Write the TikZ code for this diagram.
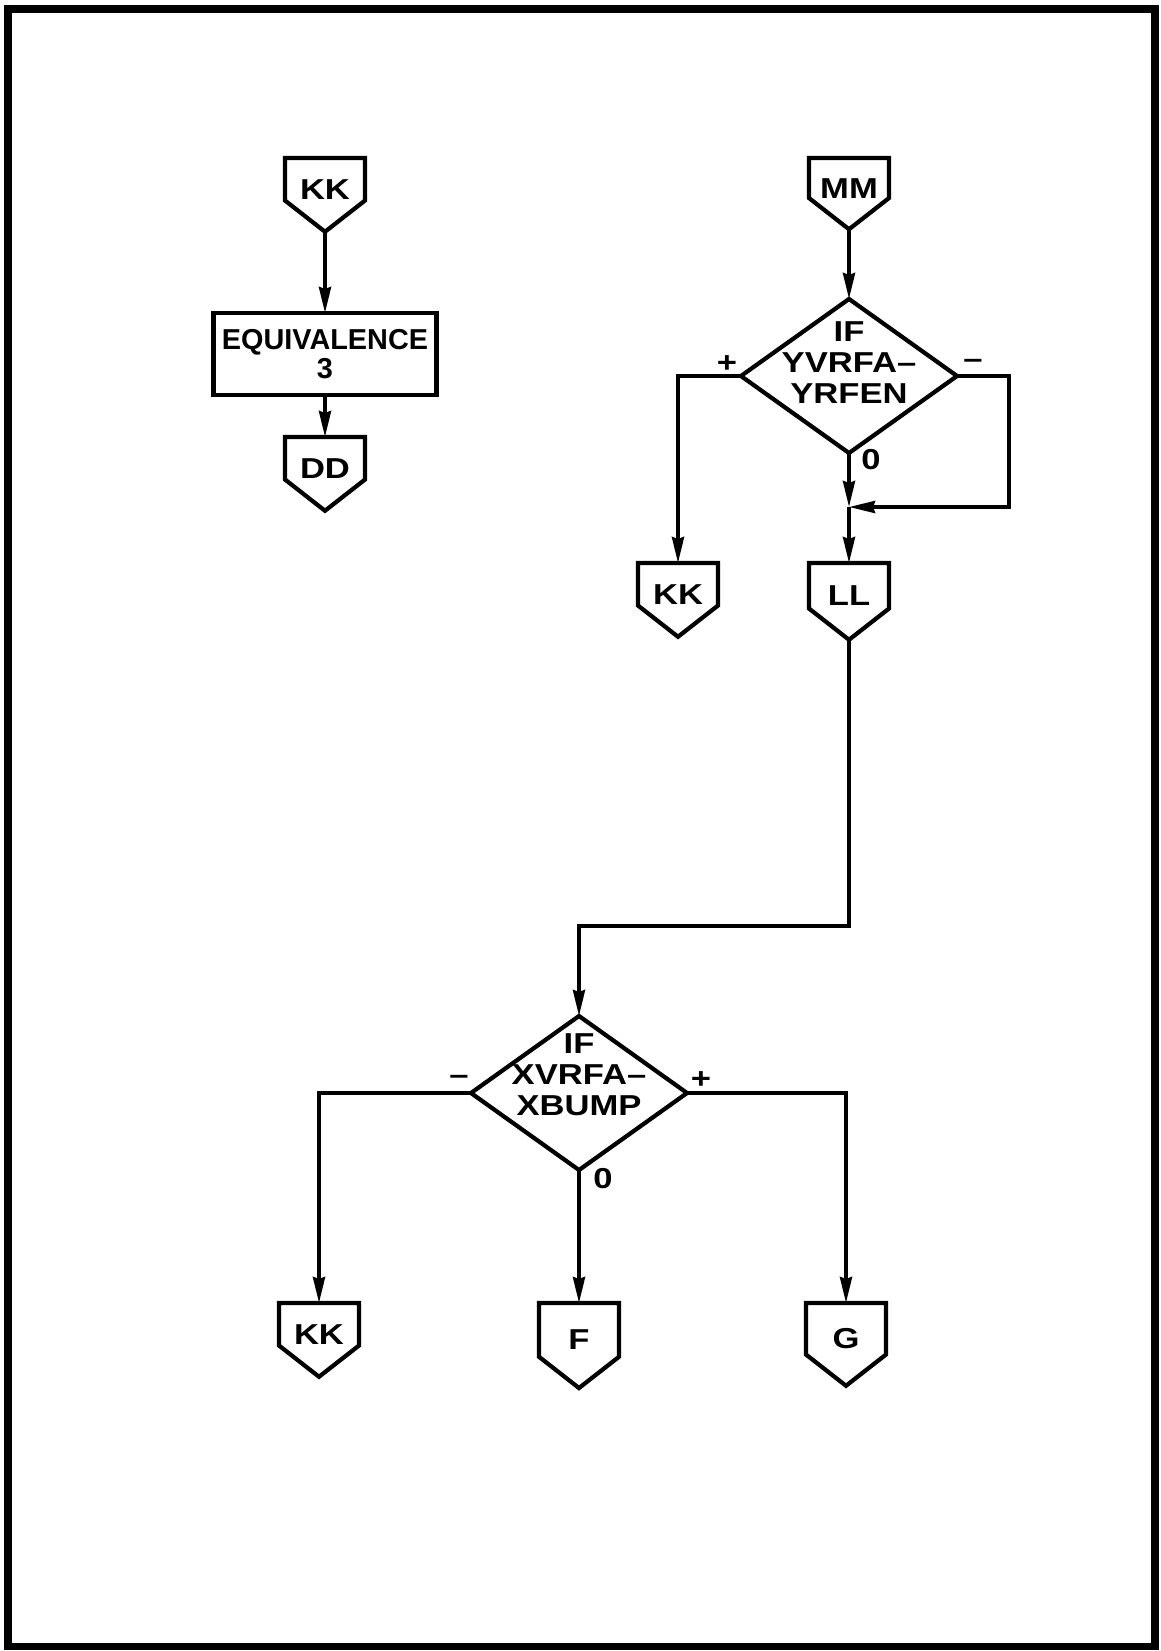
\documentclass[tikz,border=0pt]{standalone}
\usepackage{fontspec}
\setmainfont{Liberation Sans}
\newfontfamily\widesans[FakeStretch=1.2]{Liberation Sans}
\usetikzlibrary{shapes.geometric,shapes.symbols,arrows.meta}
\tikzset{
  conn/.style={shape=signal,signal to=south,signal from=nowhere,signal pointer angle=104,
    draw,line width=3pt,minimum width=2cm,minimum height=1.55cm,inner sep=0pt,outer sep=0pt,
    text height=1cm,text depth=0pt,anchor=north},
  box/.style={draw,line width=3pt,minimum width=5.575cm,minimum height=2.05cm,inner sep=0pt,outer sep=0pt,
    align=center,font=\bfseries\fontsize{20.5}{21}\selectfont},
  test/.style={diamond,draw,line width=3pt,minimum width=5.4cm,minimum height=3.85cm,inner sep=0pt,outer sep=0pt},
  arr/.style={line width=2.6pt,-{Stealth[length=0.65cm,width=0.3cm,inset=0.05cm]}},
  sgn/.style={inner sep=0pt,outer sep=0pt}
}
\begin{document}
\begin{tikzpicture}[x=0.025cm,y=-0.025cm,font=\widesans\bfseries\fontsize{20.5}{22}\selectfont]
      \useasboundingbox(0,0)rectangle(1161,1651);
      \draw[line width=5pt](8,9)rectangle(1155,1646);
      \begin{scope}
        \node[conn](kk1)at(325,158){KK};
        \node[box](equ)at(325,354){EQUIVALENCE\\3};
        \node[conn](dd)at(325,437){DD};
        \draw[arr](kk1.south)--(equ.north);
        \draw[arr](equ.south)--(dd.north);
      \end{scope}
      \begin{scope}
        \node[conn](mm)at(849,158){MM};
        \node[test,label={[align=center,yshift=0.33cm]center:{IF\\YVRFA–\\YRFEN}}](yif)at(849,376){};
        \node[conn](kk2)at(678,563){KK};
        \node[conn](ll)at(849,563){LL};
        \coordinate(yj)at(849,507);
        \node[sgn](yp)at([shift={(-14,-12)}]yif.west){+};
        \node[sgn](ym)at([shift={(16,-12)}]yif.east){–};
        \node[sgn](yz)at([shift={(22,7)}]yif.south){0};
        \draw[arr](mm.south)--(yif.north);
        \draw[arr](yif.west)-|(kk2.north);
        \draw[arr](yif.south)--(yj);
        \draw[arr](yif.east)--++(52,0)|-(yj);
        \draw[arr](yj)--(ll.north);
      \end{scope}
      \begin{scope}
        \node[test,label={[align=center,yshift=0.45cm]center:{IF\\XVRFA–\\XBUMP}}](xif)at(579,1093){};
        \node[conn](kk3)at(319,1303){KK};
        \node[conn](f)at(579,1303){F};
        \node[conn](g)at(846,1303){G};
        \node[sgn](xm)at([shift={(-12,-13)}]xif.west){–};
        \node[sgn](xp)at([shift={(14,-13)}]xif.east){+};
        \node[sgn](xz)at([shift={(24,9)}]xif.south){0};
        \draw[arr](ll.south)--++(0,286)-|(xif.north);
        \draw[arr](xif.west)-|(kk3.north);
        \draw[arr](xif.south)--(f.north);
        \draw[arr](xif.east)-|(g.north);
      \end{scope}
    \end{tikzpicture}
\end{document}
